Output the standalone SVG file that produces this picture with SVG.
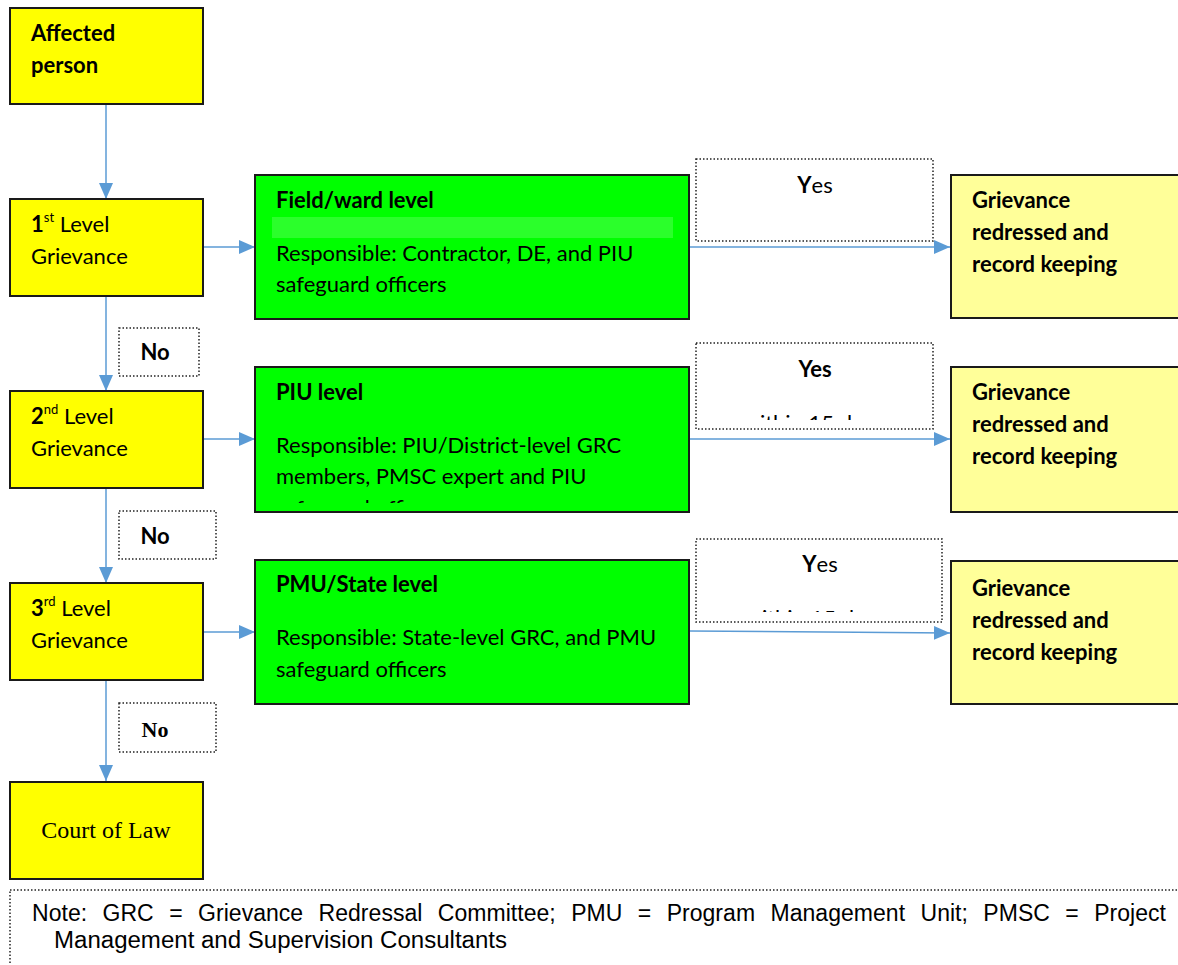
<svg xmlns="http://www.w3.org/2000/svg" width="1178" height="965" viewBox="0 0 1178 965">
<defs>
<marker id="ah" markerUnits="userSpaceOnUse" markerWidth="16" markerHeight="16" viewBox="0 0 16 16" refX="16" refY="8" orient="auto">
<path d="M0,1 L16,8 L0,15 Z" fill="#5B9BD5"/>
</marker>
<clipPath id="clipY2"><rect x="696" y="343" width="237" height="77"/></clipPath>
<clipPath id="clipY3"><rect x="696" y="539" width="246" height="73"/></clipPath>
<clipPath id="clipG2"><rect x="255" y="367" width="434" height="136"/></clipPath>
</defs>
<style>
.yb{fill:#FFFF00;stroke:#1a1a1a;stroke-width:2}
.gb{fill:#00FF00;stroke:#1a1a1a;stroke-width:2}
.lb{fill:#FFFF99;stroke:#1a1a1a;stroke-width:2}
.db{fill:#FFFFFF;stroke:#222;stroke-width:1.5;stroke-dasharray:1.5 2}
.t{font-family:Lato,"Open Sans","Liberation Sans",sans-serif;font-size:22px;fill:#000}
.b{font-weight:bold}
.sup{font-size:13px}
.con{stroke:#5B9BD5;stroke-width:1.5;fill:none;marker-end:url(#ah)}
.serif{font-family:"Liberation Serif","Times New Roman",serif;fill:#000}
.note{font-family:"Liberation Sans",Arial,sans-serif;font-size:23px;fill:#000}
</style>
<g id="connectors">
<line class="con" x1="106" y1="104" x2="106" y2="199"/>
<line class="con" x1="106" y1="296" x2="106" y2="391"/>
<line class="con" x1="106" y1="488" x2="106" y2="583"/>
<line class="con" x1="106" y1="680" x2="106" y2="781"/>
<line class="con" x1="203" y1="247" x2="255" y2="247"/>
<line class="con" x1="203" y1="439" x2="255" y2="439"/>
<line class="con" x1="203" y1="632" x2="255" y2="632"/>
<line class="con" x1="689" y1="247" x2="950" y2="247"/>
<line class="con" x1="689" y1="439" x2="950" y2="439"/>
<line class="con" x1="689" y1="631" x2="950" y2="633"/>
</g>
<g id="affected">
<rect class="yb" x="10" y="8" width="193" height="96"/>
<text class="t b" x="31" y="41">Affected</text>
<text class="t b" x="31" y="73">person</text>
</g>
<g id="level1">
<rect class="yb" x="10" y="199" width="193" height="97"/>
<text class="t" x="31" y="232"><tspan class="b">1</tspan><tspan class="sup" dy="-10">st</tspan><tspan dy="10"> Level</tspan></text>
<text class="t" x="31" y="264">Grievance</text>
</g>
<g id="level2">
<rect class="yb" x="10" y="391" width="193" height="97"/>
<text class="t" x="31" y="424"><tspan class="b">2</tspan><tspan class="sup" dy="-10">nd</tspan><tspan dy="10"> Level</tspan></text>
<text class="t" x="31" y="456">Grievance</text>
</g>
<g id="level3">
<rect class="yb" x="10" y="583" width="193" height="97"/>
<text class="t" x="31" y="616"><tspan class="b">3</tspan><tspan class="sup" dy="-10">rd</tspan><tspan dy="10"> Level</tspan></text>
<text class="t" x="31" y="648">Grievance</text>
</g>
<g id="court">
<rect class="yb" x="10" y="782" width="193" height="97"/>
<text class="serif" x="106" y="838" font-size="24" text-anchor="middle">Court of Law</text>
</g>
<g id="no1">
<rect class="db" x="119" y="328" width="80" height="48"/>
<text class="t b" x="155" y="360" text-anchor="middle">No</text>
</g>
<g id="no2">
<rect class="db" x="119" y="511" width="97" height="48"/>
<text class="t b" x="155" y="544" text-anchor="middle">No</text>
</g>
<g id="no3">
<rect class="db" x="119" y="703" width="97" height="49"/>
<text class="serif" x="155" y="737" font-size="22" font-weight="bold" text-anchor="middle">No</text>
</g>
<g id="field">
<rect class="gb" x="255" y="175" width="434" height="144"/>
<rect x="272" y="217" width="401" height="21" fill="#2BFF2B"/>
<text class="t b" x="276" y="208">Field/ward level</text>
<text class="t" x="276" y="261">Responsible: Contractor, DE, and PIU</text>
<text class="t" x="276" y="292">safeguard officers</text>
</g>
<g id="piu">
<rect class="gb" x="255" y="367" width="434" height="145"/>
<text class="t b" x="276" y="400">PIU level</text>
<text class="t" x="276" y="453">Responsible: PIU/District-level GRC</text>
<text class="t" x="276" y="484">members, PMSC expert and PIU</text>
<g clip-path="url(#clipG2)"><text class="t" x="276" y="516">safeguard officers</text></g>
</g>
<g id="pmu">
<rect class="gb" x="255" y="560" width="434" height="144"/>
<text class="t b" x="276" y="592">PMU/State level</text>
<text class="t" x="276" y="645">Responsible: State-level GRC, and PMU</text>
<text class="t" x="276" y="677">safeguard officers</text>
</g>
<g id="yes1">
<rect class="db" x="696" y="159" width="237" height="82"/>
<text class="t" x="815" y="193" text-anchor="middle"><tspan class="b">Y</tspan>es</text>
</g>
<g id="yes2">
<rect class="db" x="696" y="343" width="237" height="86"/>
<text class="t b" x="815" y="377" text-anchor="middle">Yes</text>
<g clip-path="url(#clipY2)"><text class="t" x="813" y="431" text-anchor="middle">within 15 days</text></g>
</g>
<g id="yes3">
<rect class="db" x="696" y="539" width="246" height="83"/>
<text class="t" x="820" y="572" text-anchor="middle"><tspan class="b">Y</tspan>es</text>
<g clip-path="url(#clipY3)"><text class="t" x="815" y="626" text-anchor="middle">within 15 days</text></g>
</g>
<g id="redressed1">
<rect class="lb" x="951" y="175" width="240" height="143"/>
<text class="t b" x="972" y="208">Grievance</text>
<text class="t b" x="972" y="240">redressed and</text>
<text class="t b" x="972" y="272">record keeping</text>
</g>
<g id="redressed2">
<rect class="lb" x="951" y="367" width="240" height="145"/>
<text class="t b" x="972" y="400">Grievance</text>
<text class="t b" x="972" y="432">redressed and</text>
<text class="t b" x="972" y="464">record keeping</text>
</g>
<g id="redressed3">
<rect class="lb" x="951" y="561" width="240" height="143"/>
<text class="t b" x="972" y="596">Grievance</text>
<text class="t b" x="972" y="628">redressed and</text>
<text class="t b" x="972" y="660">record keeping</text>
</g>
<g id="note">
<rect class="db" x="10" y="890" width="1200" height="100" stroke-width="1"/>
<text class="note" x="32" y="921" textLength="1134" lengthAdjust="spacing" word-spacing="9">Note: GRC = Grievance Redressal Committee; PMU = Program Management Unit; PMSC = Project</text>
<text class="note" x="54" y="948" textLength="453" lengthAdjust="spacingAndGlyphs">Management and Supervision Consultants</text>
</g>
</svg>
